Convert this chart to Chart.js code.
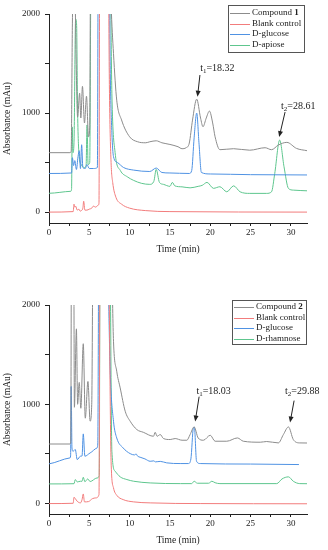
<!DOCTYPE html>
<html><head><meta charset="utf-8">
<script src="https://cdn.jsdelivr.net/npm/chart.js@4.4.0/dist/chart.umd.min.js"></script>
<style>
html,body{margin:0;padding:0;background:#fff;width:328px;height:550px;overflow:hidden}
.panel{position:absolute;left:0;width:328px;height:275px}
canvas{display:block}
</style></head><body>
<div class="panel" style="top:0"><canvas id="c1" width="328" height="275"></canvas></div>
<div class="panel" style="top:275px"><canvas id="c2" width="328" height="275"></canvas></div>
<script>
// ---------- Panel 1 data ----------
const p1Names = ['Compound 1', 'Blank control', 'D-glucose', 'D-apiose'];
const p1CompT = [0, 2.6, 2.75, 2.9, 3.05, 3.2, 3.35, 3.55, 3.8, 3.95, 4.15, 4.4, 4.65, 4.9, 5.05, 5.15, 5.4, 7.4, 7.7, 8.0, 8.4, 9.0, 10.0, 11.0, 12.0, 12.5, 13.3, 14.0, 15.0, 16.0, 16.5, 17.0, 17.4, 17.8, 18.32, 18.8, 19.1, 19.5, 19.9, 20.3, 20.6, 21.2, 22.9, 24.9, 26.8, 27.6, 28.45, 29.5, 30.7, 32];
const p1CompV = [600, 600, 615, 1900, 2600, 2400, 1600, 960, 1200, 950, 1270, 900, 1170, 760, 850, 2500, 3000, 3000, 2100, 1600, 1130, 930, 760, 710, 700, 710, 720, 700, 683, 660, 640, 650, 697, 929, 1140, 949, 862, 949, 1020, 900, 760, 630, 640, 625, 650, 630, 677, 704, 643, 620];
const p1BlankT = [0, 3.0, 3.1, 3.2, 3.3, 3.5, 3.7, 3.85, 4.0, 4.2, 4.3, 4.45, 4.7, 5.0, 5.3, 5.5, 5.8, 6.1, 6.2, 6.3, 7.3, 7.5, 7.7, 7.9, 8.3, 9.0, 10.0, 12.0, 15.0, 32];
const p1BlankV = [0, 5, 80, 50, 60, 20, 30, 10, 15, 40, 110, 20, 20, 30, 40, 60, 50, 70, 90, 3000, 3000, 1200, 500, 300, 150, 80, 40, 15, 5, 0];
const p1GlucT = [0, 2.8, 2.9, 3.05, 3.2, 3.4, 3.6, 3.75, 3.9, 4.05, 4.2, 4.5, 4.7, 5.0, 5.5, 6.0, 6.1, 6.3, 7.4, 7.6, 7.8, 8.0, 8.5, 9.25, 10.5, 12.5, 13.3, 14.0, 15.0, 17.4, 17.7, 18.0, 18.32, 18.6, 18.9, 20.0, 25.0, 32];
const p1GlucV = [390, 395, 550, 470, 520, 430, 560, 620, 440, 680, 450, 440, 480, 440, 440, 450, 2500, 3000, 3000, 1400, 800, 560, 500, 450, 424, 410, 445, 400, 395, 390, 420, 750, 1000, 700, 400, 385, 378, 375];
const p1ApiT = [0, 2.7, 2.8, 2.88, 2.97, 3.1, 3.3, 3.42, 3.55, 3.75, 4.0, 4.4, 4.6, 4.72, 4.85, 5.05, 5.2, 5.35, 7.5, 7.8, 8.2, 8.85, 9.7, 10.5, 11.5, 12.5, 13.0, 13.3, 13.7, 14.2, 15.0, 15.3, 15.6, 16.5, 17.5, 18.5, 19.0, 19.6, 20.4, 21.2, 22.05, 22.9, 23.7, 24.9, 27.0, 27.6, 28.0, 28.61, 29.15, 29.7, 30.3, 32];
const p1ApiV = [190, 210, 230, 860, 600, 700, 1950, 1900, 1000, 560, 480, 450, 470, 880, 480, 500, 2500, 3000, 3000, 1200, 600, 420, 357, 320, 290, 280, 310, 431, 300, 280, 260, 300, 265, 255, 245, 260, 270, 300, 240, 256, 205, 265, 205, 189, 189, 205, 391, 727, 458, 239, 222, 215];
const p1AnnLabels = ['18.32', '28.61'];
const p1AnnTextX = [18.75, 28.78], p1AnnTextY = [1454, 1070];
const p1AnnTailX = [18.72, 29.28], p1AnnTailY = [1384, 1010];
const p1AnnHeadX = [18.42, 28.55], p1AnnHeadY = [1165, 757];

// ---------- Panel 2 data ----------
const p2Names = ['Compound 2', 'Blank control', 'D-glucose', 'D-rhamnose'];
const p2CompT = [0, 2.6, 2.7, 2.8, 3.05, 3.15, 3.4, 3.55, 3.75, 3.95, 4.25, 4.5, 4.83, 5.1, 5.3, 5.5, 7.6, 8.0, 8.4, 8.83, 9.45, 10.07, 10.9, 11.7, 12.96, 13.17, 13.4, 13.8, 14.2, 15.03, 15.65, 16.5, 17.1, 17.5, 18.0, 18.5, 19.15, 20.0, 20.6, 22.05, 23.37, 24.1, 26.2, 27.0, 28.45, 29.07, 29.7, 30.3, 31.1, 32];
const p2CompV = [600, 600, 620, 3000, 3000, 970, 1760, 1000, 1220, 960, 1610, 860, 1230, 830, 1000, 3000, 3000, 1635, 1333, 1165, 930, 829, 745, 718, 678, 718, 678, 695, 655, 645, 655, 638, 638, 695, 772, 661, 638, 688, 628, 628, 661, 628, 618, 625, 611, 695, 772, 645, 611, 610];
const p2BlankT = [0, 3.0, 3.1, 3.26, 3.5, 3.9, 4.1, 4.25, 4.4, 4.9, 5.4, 5.8, 6.2, 6.35, 7.3, 7.7, 8.0, 8.4, 9.2, 10.5, 12.55, 18.75, 32];
const p2BlankV = [0, 3, 64, 50, 23, 7, 40, 97, 17, 20, 50, 57, 90, 3000, 3000, 426, 158, 84, 40, 17, 7, 0, -2];
const p2GlucT = [0, 2.6, 2.68, 2.75, 2.85, 2.97, 3.26, 3.5, 3.9, 4.1, 4.25, 4.45, 5.1, 5.95, 6.05, 6.2, 7.1, 7.6, 8.0, 8.4, 9.2, 10.07, 10.6, 10.8, 11.0, 11.3, 11.9, 12.55, 13.0, 13.2, 13.8, 14.6, 16.27, 17.3, 17.6, 17.9, 18.03, 18.3, 18.75, 25, 31.0];
const p2GlucV = [400, 460, 480, 1180, 560, 527, 544, 443, 477, 480, 702, 477, 510, 560, 600, 3000, 3000, 1300, 829, 661, 560, 503, 490, 500, 477, 467, 450, 426, 430, 420, 425, 410, 403, 403, 450, 760, 770, 426, 403, 398, 393];
const p2RhaT = [0, 3.1, 3.26, 3.5, 3.9, 4.1, 4.25, 4.45, 4.8, 5.1, 5.95, 6.23, 6.35, 7.5, 7.8, 8.2, 8.83, 9.66, 10.5, 12.55, 16.3, 17.7, 18.0, 18.4, 19.8, 20.2, 20.6, 21.2, 28.25, 28.9, 29.7, 30.3, 31.1, 32];
const p2RhaV = [198, 200, 242, 218, 225, 225, 265, 220, 248, 222, 258, 282, 3000, 3000, 527, 326, 269, 242, 225, 208, 201, 201, 225, 205, 205, 225, 210, 201, 201, 248, 269, 225, 201, 200];
const p2AnnLabels = ['18.03', '29.88'];
const p2AnnTextX = [18.28, 29.28], p2AnnTextY = [1128, 1128];
const p2AnnTailX = [18.62, 30.4], p2AnnTailY = [1077, 1037];
const p2AnnHeadX = [18.13, 29.9], p2AnnHeadY = [826, 816];

const xTickAll = [0, 2.5, 5, 7.5, 10, 12.5, 15, 17.5, 20, 22.5, 25, 27.5, 30];
const xTickLabeled = [0, 5, 10, 15, 20, 25, 30];
const yTickAll = [0, 500, 1000, 1500, 2000];
const yTickLabeled = [0, 1000, 2000];

// ---------- rendering ----------
const FONT = "'Liberation Serif', 'Times New Roman', serif";
const INK = '#222';
const COLORS = ['#8c8c8c', '#f27c7c', '#4f92e3', '#5ec68e'];

function pts(t, v) { return t.map((x, i) => ({ x: x, y: v[i] })); }

function legendPlugin(box) {
  return {
    id: 'boxLegend',
    afterDraw(chart) {
      const ctx = chart.ctx; ctx.save();
      ctx.fillStyle = '#fff'; ctx.fillRect(box.x, box.y, box.w, box.h);
      ctx.strokeStyle = '#555'; ctx.lineWidth = 1;
      ctx.strokeRect(box.x + 0.5, box.y + 0.5, box.w, box.h);
      chart.data.datasets.forEach((ds, i) => {
        const cy = Math.round(box.y + box.first + i * box.row);
        ctx.strokeStyle = ds.borderColor; ctx.lineWidth = 1;
        ctx.beginPath(); ctx.moveTo(box.x + 2, cy + 0.5); ctx.lineTo(box.x + 22, cy + 0.5); ctx.stroke();
        ctx.fillStyle = INK; ctx.textBaseline = 'middle'; ctx.textAlign = 'left';
        ctx.font = '9px ' + FONT;
        let tx = box.x + 24;
        const m = ds.label.match(/^(Compound )(\d+)$/);
        if (m) {
          ctx.fillText(m[1], tx, cy); tx += ctx.measureText(m[1]).width;
          ctx.font = 'bold 9px ' + FONT; ctx.fillText(m[2], tx, cy);
        } else ctx.fillText(ds.label, tx, cy);
      });
      ctx.restore();
    }
  };
}

function annPlugin(labels, txX, txY, tlX, tlY, hdX, hdY) {
  return {
    id: 'ann',
    afterDatasetsDraw(chart) {
      const ctx = chart.ctx, xs = chart.scales.x, ys = chart.scales.y;
      ctx.save();
      labels.forEach((lab, i) => {
        const tx = xs.getPixelForValue(tlX[i]), ty = ys.getPixelForValue(tlY[i]);
        const hx = xs.getPixelForValue(hdX[i]), hy = ys.getPixelForValue(hdY[i]);
        ctx.strokeStyle = INK; ctx.fillStyle = INK; ctx.lineWidth = 1;
        const ang = Math.atan2(hy - ty, hx - tx), L = 6, W = 2.5;
        ctx.beginPath(); ctx.moveTo(tx, ty);
        ctx.lineTo(hx - (L - 1) * Math.cos(ang), hy - (L - 1) * Math.sin(ang)); ctx.stroke();
        ctx.beginPath(); ctx.moveTo(hx, hy);
        ctx.lineTo(hx - L * Math.cos(ang) + W * Math.sin(ang), hy - L * Math.sin(ang) - W * Math.cos(ang));
        ctx.lineTo(hx - L * Math.cos(ang) - W * Math.sin(ang), hy - L * Math.sin(ang) + W * Math.cos(ang));
        ctx.closePath(); ctx.fill();
        let lx = xs.getPixelForValue(txX[i]); const ly = ys.getPixelForValue(txY[i]);
        ctx.textBaseline = 'middle'; ctx.textAlign = 'left';
        ctx.font = '10px ' + FONT; ctx.fillText('t', lx, ly); lx += ctx.measureText('t').width;
        ctx.font = '7px ' + FONT; ctx.fillText(String(i + 1), lx, ly + 3); lx += ctx.measureText(String(i + 1)).width;
        ctx.font = '10px ' + FONT; ctx.fillText('=' + lab, lx, ly);
      });
      ctx.restore();
    }
  };
}

function makeChart(id, names, series, box, ann, padTop, padBottom, yMin) {
  const datasets = series.map((s, i) => ({
    label: names[i], data: pts(s[0], s[1]), borderColor: COLORS[i],
    borderWidth: 1, pointRadius: 0, fill: false, cubicInterpolationMode: 'monotone'
  }));
  const tickFont = { family: FONT, size: 9 };
  return new Chart(document.getElementById(id), {
    type: 'line',
    data: { datasets },
    options: {
      responsive: false, animation: false, devicePixelRatio: 1,
      layout: { padding: { left: 0, right: 21, top: padTop, bottom: padBottom } },
      plugins: { legend: { display: false }, tooltip: { enabled: false } },
      scales: {
        x: {
          type: 'linear', min: 0, max: 32,
          afterBuildTicks: s => { s.ticks = xTickAll.map(v => ({ value: v })); },
          afterFit: s => { s.height = 36; },
          ticks: { autoSkip: false, maxRotation: 0, padding: 1,
            color: INK, font: tickFont,
            callback: v => xTickLabeled.includes(v) ? String(v) : '' },
          grid: { drawOnChartArea: false, drawTicks: true, tickLength: 3, color: INK },
          border: { display: true, color: INK, width: 1 },
          title: { display: true, text: 'Time (min)', color: INK, font: { family: FONT, size: 9.5 }, padding: { top: 4, bottom: 4 } }
        },
        y: {
          type: 'linear', min: yMin, max: 2000,
          afterBuildTicks: s => { s.ticks = yTickAll.map(v => ({ value: v })); },
          afterFit: s => { s.width = 49; },
          ticks: { autoSkip: false, padding: 5,
            color: INK, font: tickFont,
            callback: v => yTickLabeled.includes(v) ? String(v) : '' },
          grid: { drawOnChartArea: false, drawTicks: true, tickLength: 4, color: INK },
          border: { display: true, color: INK, width: 1 },
          title: { display: true, text: 'Absorbance (mAu)', color: INK, font: { family: FONT, size: 9.5 }, padding: { top: 2, bottom: 4 } }
        }
      }
    },
    plugins: [legendPlugin(box), ann]
  });
}

makeChart('c1', p1Names,
  [[p1CompT, p1CompV], [p1BlankT, p1BlankV], [p1GlucT, p1GlucV], [p1ApiT, p1ApiV]],
  { x: 228, y: 5, w: 76, h: 47, first: 8, row: 10.7 },
  annPlugin(p1AnnLabels, p1AnnTextX, p1AnnTextY, p1AnnTailX, p1AnnTailY, p1AnnHeadX, p1AnnHeadY),
  14, 16, -110);

makeChart('c2', p2Names,
  [[p2CompT, p2CompV], [p2BlankT, p2BlankV], [p2GlucT, p2GlucV], [p2RhaT, p2RhaV]],
  { x: 232, y: 25, w: 74, h: 44, first: 7, row: 10.7 },
  annPlugin(p2AnnLabels, p2AnnTextX, p2AnnTextY, p2AnnTailX, p2AnnTailY, p2AnnHeadX, p2AnnHeadY),
  30, 0, -105);
</script>
</body></html>
